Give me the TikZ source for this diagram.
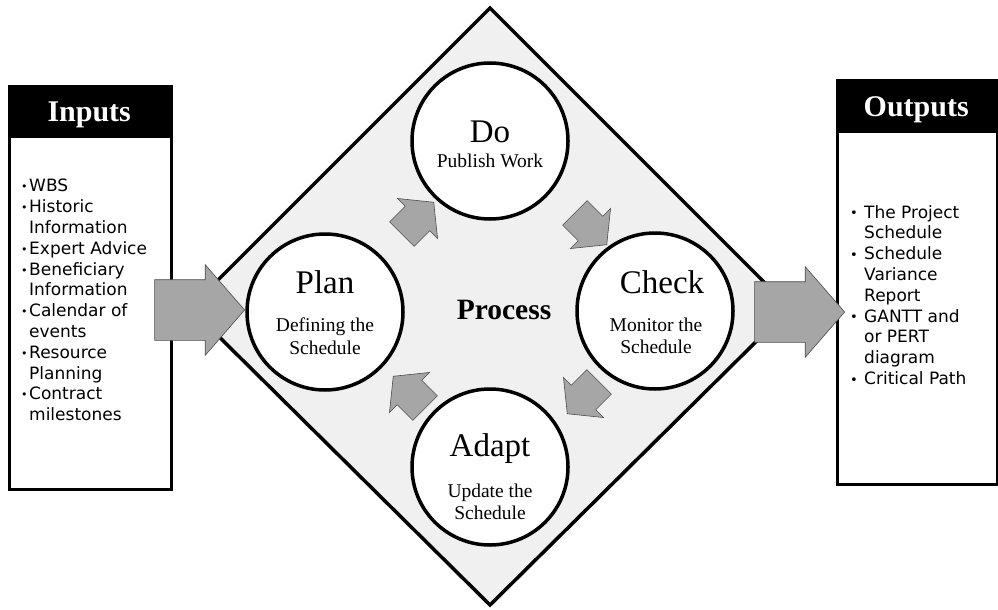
\documentclass[tikz,border=0pt]{standalone}
\usepackage{fontspec}
\setmainfont{Liberation Serif}
\newfontfamily\listfont{DejaVu Sans}
\usetikzlibrary{shapes.arrows}

\definecolor{arrowgray}{RGB}{166,166,166}
\definecolor{processgray}{RGB}{240,240,240}

\newcommand{\inbul}{\makebox[8pt][l]{\raisebox{1pt}{\fontsize{11}{11}\selectfont •}}}
\newcommand{\inind}{\hspace*{8pt}}
\newcommand{\outbul}{\makebox[14pt][l]{\raisebox{0.5pt}{\fontsize{13}{13}\selectfont •}}}
\newcommand{\outind}{\hspace*{14pt}}

\tikzset{
  phase/.style={circle, draw, line width=3.5pt, fill=white, minimum size=156pt, inner sep=0pt},
  phasetitle/.style={font=\fontsize{33}{35}\selectfont},
  phasetext/.style={font=\fontsize{19.5}{22.5}\selectfont, align=center},
  bigarrow/.style={single arrow, draw=black!70, fill=arrowgray, line width=0.6pt,
    minimum height=90pt, inner xsep=0pt, inner ysep=30pt,
    single arrow head extend=15pt, single arrow tip angle=98},
  smallarrow/.style={single arrow, draw=black!70, fill=arrowgray, line width=0.6pt,
    minimum height=45pt, inner xsep=0pt, inner ysep=17pt,
    single arrow head extend=11pt, single arrow tip angle=102},
  listframe/.style={draw, line width=3pt, fill=white, anchor=north west},
  listhead/.style={fill=black, text=white, anchor=north west, inner sep=0pt, text depth=0pt,
    font=\fontsize{30}{32}\selectfont\bfseries},
  listtext/.style={anchor=north west, inner sep=0pt, align=left,
    font=\listfont\fontsize{17}{20.8}\selectfont},
}

\begin{document}
\begin{tikzpicture}[x=1pt,y=-1pt]
    \useasboundingbox (0,0) rectangle (998,610);

    % process diamond
    \draw[line width=3.5pt, fill=processgray, line join=miter]
      (490,8) -- (790,308) -- (490,605) -- (190,308) -- cycle;

    \node[phase] (Do) at (490,141) {};
    \node[phase] (Plan) at (325,312) {};
    \node[phase] (Check) at (655,311) {};
    \node[phase] (Adapt) at (490,467) {};

    \node[phasetitle] (DoTitle) at (490,132) {Do};
    \node[phasetext] (DoText) at (490,161) {Publish Work};
    \node[phasetitle] (PlanTitle) at (325,282) {Plan};
    \node[phasetext] (PlanText) at (325,336) {Defining the\\Schedule};
    \node[phasetitle] (CheckTitle) at (662,282) {Check};
    \node[phasetext] (CheckText) at (656,336) {Monitor the\\Schedule};
    \node[phasetitle] (AdaptTitle) at (490,449) {Adapt};
    \node[phasetext] (AdaptText) at (490,502) {Update the\\Schedule};

    \node[font=\fontsize{29.5}{31}\selectfont\bfseries] (Process) at (504,310) {Process};

    % cycle arrows
    \node[smallarrow, rotate=45, anchor=tip] (PlanToDo) at (434,202) {};
    \node[smallarrow, rotate=-45, anchor=tip] (DoToCheck) at (607,245) {};
    \node[smallarrow, rotate=-135, anchor=tip] (CheckToAdapt) at (567,414) {};
    \node[smallarrow, rotate=135, anchor=tip] (AdaptToPlan) at (393,376) {};

    % inputs
    \node[listframe, minimum width=162pt, minimum height=403pt] (inBox) at (8,85) {};
    \node[listhead, minimum width=162pt, minimum height=53pt] (inHead) at (8,85) {Inputs};
    \node[listtext] (inList) at (21,179) {%
      \inbul WBS\\
      \inbul Historic\\
      \inind Information\\
      \inbul Expert Advice\\
      \inbul Beneficiary\\
      \inind Information\\
      \inbul Calendar of\\
      \inind events\\
      \inbul Resource\\
      \inind Planning\\
      \inbul Contract\\
      \inind milestones};

    % outputs
    \node[listframe, minimum width=160pt, minimum height=404pt] (outBox) at (836,79) {};
    \node[listhead, minimum width=160pt, minimum height=54pt] (outHead) at (836,79) {Outputs};
    \node[listtext] (outList) at (850,205) {%
      \outbul The Project\\
      \outind Schedule\\
      \outbul Schedule\\
      \outind Variance\\
      \outind Report\\
      \outbul GANTT and\\
      \outind or PERT\\
      \outind diagram\\
      \outbul Critical Path};

    \node[bigarrow, anchor=tip] (inArrow) at (245,310) {};
    \node[bigarrow, anchor=tip] (outArrow) at (845,312) {};
\end{tikzpicture}
\end{document}
